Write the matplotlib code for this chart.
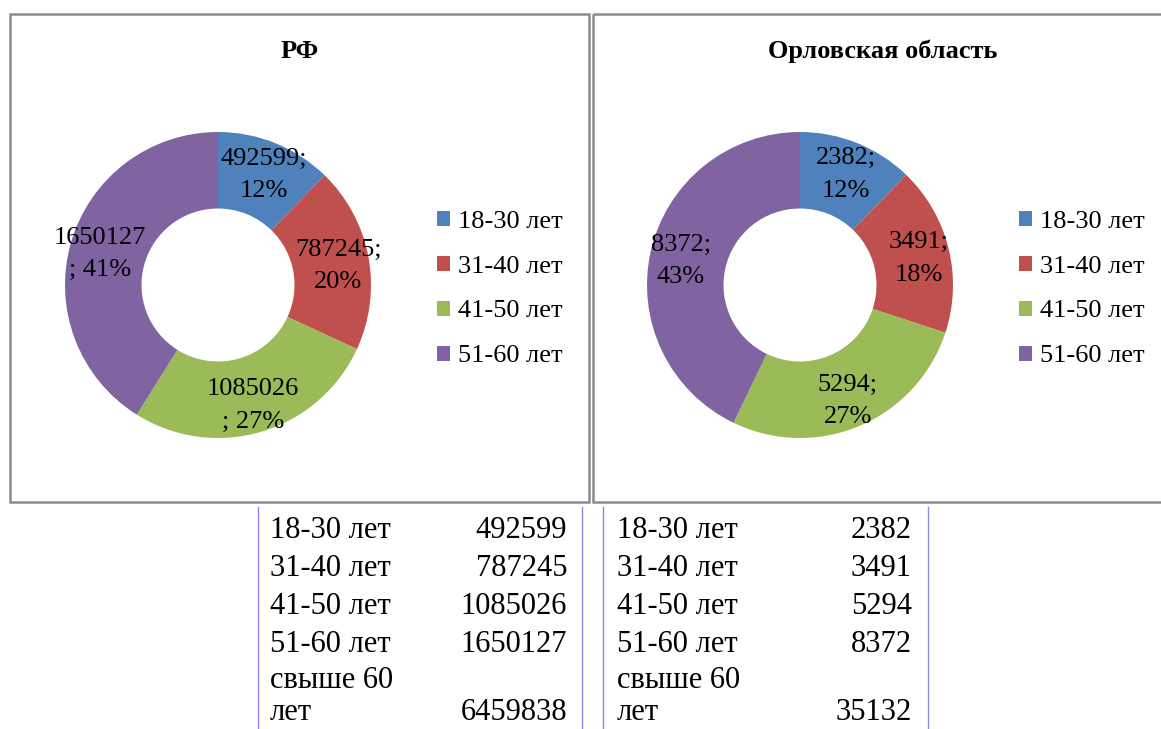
import matplotlib
matplotlib.use("Agg")
import numpy as np
import matplotlib.pyplot as plt
from matplotlib.patches import Rectangle, Patch

plt.rcParams['font.family'] = ['Liberation Serif', 'DejaVu Serif']

# данные
groups = ["18-30 лет", "31-40 лет", "41-50 лет", "51-60 лет"]
rf_values = [492599, 787245, 1085026, 1650127]
orel_values = [2382, 3491, 5294, 8372]
table_labels = ["18-30 лет", "31-40 лет", "41-50 лет", "51-60 лет", "свыше 60\nлет"]
rf_table = [492599, 787245, 1085026, 1650127, 6459838]
orel_table = [2382, 3491, 5294, 8372, 35132]
titles = ["РФ", "Орловская область"]

colors = ["#4F81BD", "#C0504D", "#9BBB59", "#8064A2"]
W, H = 1161, 729

fig = plt.figure(figsize=(W / 100, H / 100), dpi=100)
fig.patch.set_facecolor("white")

# фон: рамки и таблица (координаты в пикселях)
bg = fig.add_axes([0, 0, 1, 1])
bg.set_xlim(0, W)
bg.set_ylim(H, 0)
bg.axis("off")

for x0, x1 in [(10, 589), (593, W + 5)]:
    bg.add_patch(Rectangle((x0, 14), x1 - x0, 488, fill=False,
                           edgecolor="#8c8c8c", linewidth=1.8))

for x in [258, 582, 603, 928]:
    bg.plot([x, x], [507, H], color="#8a8ae0", linewidth=1)

row_y = [530, 568, 606, 644, 681]
for i, lab in enumerate(table_labels):
    if "\n" in lab:
        first, second = lab.split("\n")
        for tx in (270, 617):
            bg.text(tx, row_y[i], first, fontsize=22, ha="left", va="center")
            bg.text(tx, row_y[i] + 32, second, fontsize=22, ha="left", va="center")
        yv = row_y[i] + 32
    else:
        for tx in (270, 617):
            bg.text(tx, row_y[i], lab, fontsize=22, ha="left", va="center")
        yv = row_y[i]
    bg.text(567, yv, str(rf_table[i]), fontsize=22, ha="right", va="center")
    bg.text(912, yv, str(orel_table[i]), fontsize=22, ha="right", va="center")


def make_label(v, total):
    p = round(v / total * 100)
    s = str(v)
    if len(s) > 6:
        return f"{s}\n; {p}%"
    return f"{s};\n{p}%"


def draw_donut(values, cx, cy, title, title_x, legend_x):
    r = 153
    ax = fig.add_axes([(cx - r) / W, (H - cy - r) / H, 2 * r / W, 2 * r / H])
    total = sum(values)
    wedges, _ = ax.pie(values, colors=colors, startangle=90, counterclock=False,
                       radius=1, wedgeprops=dict(width=0.5, linewidth=0))
    for w, v in zip(wedges, values):
        ang = np.deg2rad((w.theta1 + w.theta2) / 2)
        ax.text(0.8 * np.cos(ang), 0.8 * np.sin(ang) - 0.02, make_label(v, total),
                ha="center", va="center", fontsize=19, linespacing=1.6)
    ax.set_xlim(-1, 1)
    ax.set_ylim(-1, 1)
    ax.set_aspect("auto")

    bg.text(title_x, 51, title, fontsize=19, fontweight="bold",
            ha="center", va="center")

    handles = [Patch(facecolor=c, edgecolor="none") for c in colors]
    fig.legend(handles, groups, loc="center left",
               bbox_to_anchor=(legend_x / W, 1 - 289 / H),
               frameon=False, fontsize=19, borderpad=0, borderaxespad=0,
               handlelength=0.5, handleheight=0.5, handletextpad=0.3,
               labelspacing=0.87)


draw_donut(rf_values, 218, 285, titles[0], 300, 437)
draw_donut(orel_values, 800, 285, titles[1], 883, 1019)

fig.savefig("out.png", dpi=100, facecolor="white")
